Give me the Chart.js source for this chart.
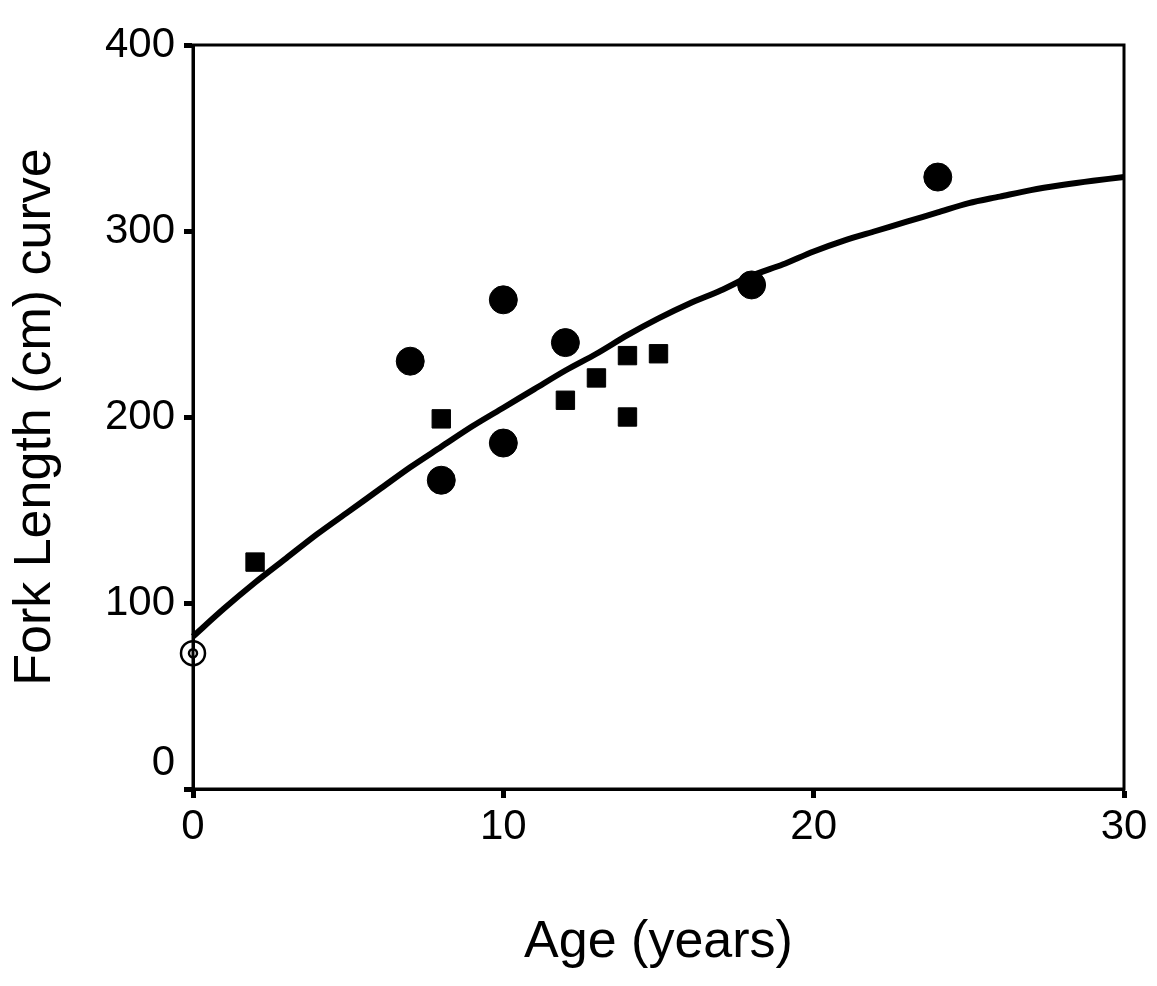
<!DOCTYPE html>
<html>
<head>
<meta charset="utf-8">
<script src="https://cdn.jsdelivr.net/npm/chart.js@4/dist/chart.umd.min.js"></script>
<style>
  html, body { margin: 0; padding: 0; background: #fff; }
  canvas { display: block; }
</style>
</head>
<body>
<canvas id="c" width="1157" height="986"></canvas>
<script>
// Fitted growth curve (age in years, fork length in cm)
const curveAges = [0,1,2,3,4,5,6,7,8,9,10,11,12,13,14,15,16,17,18,19,20,21,22,23,24,25,26,27,28,29,30];
const curveLengths = [82,97,111,124,137,149,161,173,184,195,205,215,225,234,244,253,261,268,276,282,289,295,300,305,310,315,318.5,322,324.7,327,329];

// Observed points (filled circles)
const circleAges = [7, 8, 10, 10, 12, 18, 24];
const circleLengths = [230, 166, 263, 186, 240, 271, 329];

// Observed points (filled squares)
const squareAges = [2, 8, 12, 13, 14, 14, 15];
const squareLengths = [122, 199, 209, 221, 233, 200, 234];

// Open circle marker at age 0
const openAges = [0];
const openLengths = [73];

// Axis ticks
const xTicks = [0, 10, 20, 30];
const yTicks = [0, 100, 200, 300, 400];

const toXY = (xs, ys) => xs.map((x, i) => ({ x: x, y: ys[i] }));

const FONT = "'Liberation Sans', Arial, Helvetica, sans-serif";

const frame = {
  id: 'frame',
  afterDatasetsDraw(chart) {
    const a = chart.chartArea, ctx = chart.ctx;
    ctx.save();
    ctx.strokeStyle = '#000';
    ctx.lineWidth = 3;
    ctx.strokeRect(a.left, a.top, a.right - a.left, a.bottom - a.top);
    ctx.restore();
  }
};

new Chart(document.getElementById('c'), {
  type: 'scatter',
  data: {
    datasets: [
      {
        type: 'line',
        data: toXY(curveAges, curveLengths),
        borderColor: '#000',
        borderWidth: 6,
        pointRadius: 0,
        tension: 0.3,
        fill: false,
        clip: false
      },
      {
        data: toXY(circleAges, circleLengths),
        pointStyle: 'circle',
        pointRadius: 14,
        backgroundColor: '#000',
        borderColor: '#000',
        borderWidth: 1,
        clip: false
      },
      {
        data: toXY(squareAges, squareLengths),
        pointStyle: 'rect',
        pointRadius: 13,
        backgroundColor: '#000',
        borderColor: '#000',
        borderWidth: 1,
        clip: false
      },
      {
        data: toXY(openAges, openLengths),
        pointStyle: 'circle',
        pointRadius: 12,
        backgroundColor: 'rgba(255,255,255,0)',
        borderColor: '#000',
        borderWidth: 2.5,
        clip: false
      },
      {
        data: toXY(openAges, openLengths),
        pointStyle: 'circle',
        pointRadius: 4,
        backgroundColor: '#fff',
        borderColor: '#000',
        borderWidth: 2.5,
        clip: false
      }
    ]
  },
  options: {
    responsive: false,
    animation: false,
    events: [],
    layout: { padding: { top: 45, right: 33, left: 0, bottom: 0 } },
    plugins: {
      legend: { display: false },
      tooltip: { enabled: false }
    },
    scales: {
      x: {
        type: 'linear',
        min: 0,
        max: 30,
        afterBuildTicks: (s) => { s.ticks = xTicks.map(v => ({ value: v })); },
        afterFit: (s) => { s.height = 197; },
        ticks: {
          color: '#000',
          font: { family: FONT, size: 42 },
          padding: 4,
          maxRotation: 0
        },
        grid: {
          display: true,
          drawOnChartArea: false,
          drawTicks: true,
          tickLength: 9,
          tickWidth: 5,
          tickColor: '#000',
          color: '#000'
        },
        border: { display: true, color: '#000', width: 3 },
        title: {
          display: true,
          text: 'Age (years)',
          color: '#000',
          font: { family: FONT, size: 52 },
          padding: { top: 0, bottom: 12 }
        }
      },
      y: {
        type: 'linear',
        min: 0,
        max: 400,
        afterBuildTicks: (s) => { s.ticks = yTicks.map(v => ({ value: v })); },
        afterFit: (s) => { s.width = 193; },
        ticks: {
          color: '#000',
          font: { family: FONT, size: 42 },
          padding: 9,
          callback: (v) => (v === 0 ? ['0', ''] : String(v))
        },
        grid: {
          display: true,
          drawOnChartArea: false,
          drawTicks: true,
          tickLength: 9,
          tickWidth: 5,
          tickColor: '#000',
          color: '#000'
        },
        border: { display: true, color: '#000', width: 3 },
        title: {
          display: true,
          text: 'Fork Length (cm) curve',
          color: '#000',
          font: { family: FONT, size: 52 },
          padding: { top: 4, bottom: 0 }
        }
      }
    }
  },
  plugins: [frame]
});
</script>
</body>
</html>
